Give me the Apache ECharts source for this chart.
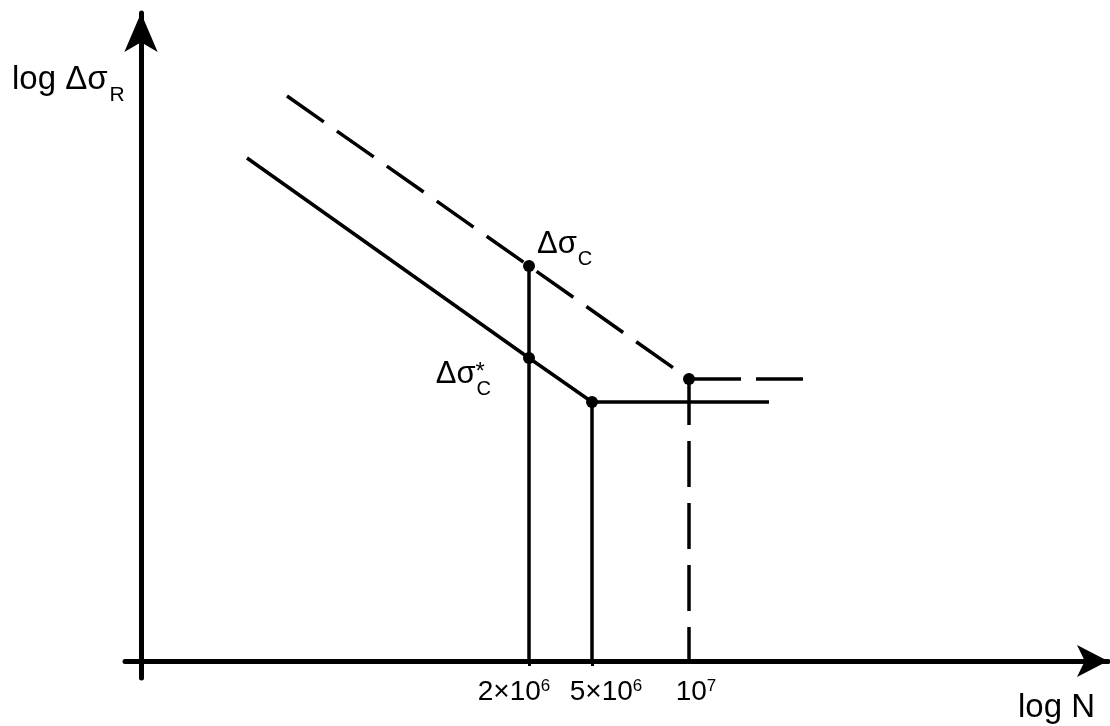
<!DOCTYPE html>
<html>
<head>
<meta charset="utf-8">
<script src="https://cdn.jsdelivr.net/npm/echarts@6/dist/echarts.min.js"></script>
<style>
  html, body { margin: 0; padding: 0; background: #ffffff; }
  #chart { width: 1110px; height: 726px; }
</style>
</head>
<body>
<div id="chart"></div>
<script>
// Fatigue strength (S–N) schematic: log N horizontally, log Δσ_R vertically,
// both in arbitrary logarithmic units.

// Cycle counts marked on the N axis
const cycleTicks    = [3.88, 4.51, 5.48];
const cycleMantissa = ['2×10', '5×10', '10'];
const cycleExponent = ['6', '6', '7'];

// Reduced curve (solid) and reference curve (dashed): [log N, log Δσ]
const reducedCurve   = [[1.06, 5.03], [3.88, 3.03], [4.51, 2.59], [6.28, 2.59]];
const referenceCurve = [[1.46, 5.65], [3.88, 3.95], [5.48, 2.82], [6.62, 2.82]];

// Characteristic points: Δσ_C, Δσ*_C, and the two knees
const pointDeltaC     = [3.88, 3.95];
const pointDeltaCStar = [3.88, 3.03];
const kneeReduced     = [4.51, 2.59];
const kneeReference   = [5.48, 2.82];

const FONT = "'Liberation Sans', Arial, Helvetica, sans-serif";
const INK = '#000000';

const chart = echarts.init(document.getElementById('chart'), null, { renderer: 'canvas' });

// Rich text styles: main glyphs, subscript, and a zero-width superscript star
const pointRich = {
  m:  { fontFamily: FONT, fontSize: 31, lineHeight: 36, verticalAlign: 'top', align: 'left', color: INK },
  s:  { fontFamily: FONT, fontSize: 20, lineHeight: 20, verticalAlign: 'top', align: 'left', padding: [21, 0, 0, 1], color: INK },
  st: { fontFamily: FONT, fontSize: 24, lineHeight: 24, verticalAlign: 'top', align: 'left', padding: [2, 0, 0, 0], width: 0, color: INK }
};
const titleRich = {
  m: { fontFamily: FONT, fontSize: 33, lineHeight: 38, verticalAlign: 'top', align: 'left', color: INK },
  s: { fontFamily: FONT, fontSize: 21, lineHeight: 21, verticalAlign: 'top', align: 'left', padding: [22, 0, 0, 2], color: INK }
};
const tickBase = { fontFamily: FONT, fontSize: 28, lineHeight: 32, verticalAlign: 'top', color: INK };
const tickExp  = { fontFamily: FONT, fontSize: 17, lineHeight: 17, verticalAlign: 'top', color: INK };
// the two close 10⁶ labels are pushed apart, the 10⁷ one nudged right
const tickRich = {
  b0: Object.assign({}, tickBase),
  e0: Object.assign({}, tickExp, { padding: [0, 30, 0, 0] }),
  b1: Object.assign({}, tickBase, { padding: [0, 0, 0, 28] }),
  e1: Object.assign({}, tickExp),
  b2: Object.assign({}, tickBase, { padding: [0, 0, 0, 14] }),
  e2: Object.assign({}, tickExp)
};

function drop(pt) { return [[pt[0], pt[1]], [pt[0], 0]]; }

const option = {
  backgroundColor: '#ffffff',
  animation: false,
  grid: { left: 125, right: 2, top: 13, bottom: 48, containLabel: false },
  xAxis: {
    type: 'value',
    min: -0.16,
    max: 9.67,
    splitLine: { show: false },
    axisLine: {
      show: true,
      onZero: true,
      symbol: ['none', 'arrow'],
      symbolSize: [24, 31],
      lineStyle: { color: INK, width: 5 }
    },
    axisTick: {
      show: true,
      customValues: [cycleTicks[0], cycleTicks[1]],
      length: 5,
      lineStyle: { color: INK, width: 3 }
    },
    axisLabel: { show: false }
  },
  yAxis: {
    type: 'value',
    min: -0.17,
    max: 6.48,
    splitLine: { show: false },
    axisLine: {
      show: true,
      onZero: true,
      symbol: ['none', 'arrow'],
      symbolSize: [25, 39],
      lineStyle: { color: INK, width: 5 }
    },
    axisTick: { show: false },
    axisLabel: { show: false }
  },
  graphic: [
    {
      type: 'text',
      x: 12, y: 63,
      style: {
        text: '{m|log Δσ}{s|R}',
        rich: titleRich,
        align: 'left',
        verticalAlign: 'top',
        fill: INK
      }
    },
    {
      type: 'text',
      x: 1095, y: 691,
      style: {
        text: '{m|log N}',
        rich: titleRich,
        align: 'right',
        verticalAlign: 'top',
        fill: INK
      }
    }
  ],
  series: [
    {
      name: 'drop at 2×10⁶',
      type: 'line',
      data: drop(pointDeltaC),
      symbol: 'none',
      lineStyle: { color: INK, width: 3.5 },
      z: 2
    },
    {
      name: 'drop at 5×10⁶',
      type: 'line',
      data: drop(kneeReduced),
      symbol: 'none',
      lineStyle: { color: INK, width: 3.5 },
      z: 2
    },
    {
      name: 'drop at 10⁷',
      type: 'line',
      data: drop(kneeReference),
      symbol: 'none',
      lineStyle: { color: INK, width: 3.5, type: [46, 16] },
      z: 2
    },
    {
      name: 'reduced curve',
      type: 'line',
      data: reducedCurve,
      symbol: 'none',
      lineStyle: { color: INK, width: 3.5 },
      z: 3
    },
    {
      name: 'reference curve, sloped part',
      type: 'line',
      data: referenceCurve.slice(0, 3),
      symbol: 'none',
      lineStyle: { color: INK, width: 3.5, type: [45, 16] },
      z: 3
    },
    {
      name: 'reference curve, cut-off part',
      type: 'line',
      data: referenceCurve.slice(2),
      symbol: 'none',
      lineStyle: { color: INK, width: 3.5, type: [52, 15] },
      z: 3
    },
    {
      name: 'points',
      type: 'scatter',
      symbol: 'circle',
      symbolSize: 12,
      itemStyle: { color: INK, opacity: 1 },
      z: 5,
      data: [
        {
          value: pointDeltaC,
          label: {
            show: true, position: 'right', distance: 2, offset: [0, -19.5],
            color: INK, opacity: 1,
            formatter: '{m|Δσ}{s|C}', rich: pointRich
          }
        },
        {
          value: pointDeltaCStar,
          label: {
            show: true, position: 'left', distance: 32, offset: [0, 18.5],
            color: INK, opacity: 1,
            formatter: '{m|Δσ}{st|*}{s|C}', rich: pointRich
          }
        },
        { value: kneeReduced },
        { value: kneeReference }
      ]
    },
    {
      name: 'cycle labels',
      type: 'scatter',
      symbol: 'circle',
      symbolSize: 0,
      silent: true,
      itemStyle: { color: INK, opacity: 1 },
      z: 4,
      data: cycleTicks.map(function (t) { return [t, 0]; }),
      label: {
        show: true,
        position: 'bottom',
        distance: 17,
        color: INK,
        formatter: function (p) {
          const i = p.dataIndex;
          return '{b' + i + '|' + cycleMantissa[i] + '}{e' + i + '|' + cycleExponent[i] + '}';
        },
        rich: tickRich
      },
      labelLayout: { hideOverlap: false }
    }
  ]
};

chart.setOption(option);
</script>
</body>
</html>
